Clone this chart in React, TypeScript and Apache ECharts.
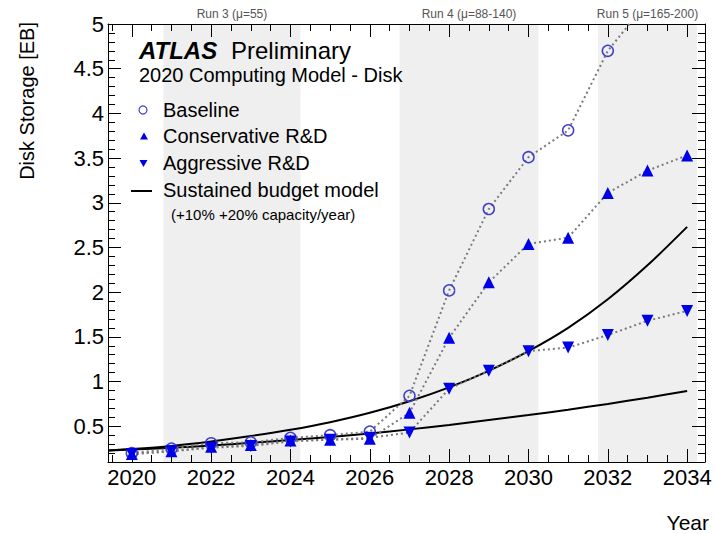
import React, { useEffect, useRef } from "react";
import * as echarts from "echarts";

const years = [2020, 2021, 2022, 2023, 2024, 2025, 2026, 2027, 2028, 2029, 2030, 2031, 2032, 2033, 2034];
const baseline = [0.2, 0.25, 0.31, 0.32, 0.37, 0.4, 0.44, 0.84, 2.02, 2.93, 3.51, 3.81, 4.7, 5.25, 5.6];
const conservative = [0.19, 0.22, 0.27, 0.29, 0.34, 0.35, 0.36, 0.65, 1.49, 2.11, 2.54, 2.61, 3.11, 3.36, 3.53];
const aggressive = [0.19, 0.22, 0.26, 0.28, 0.33, 0.35, 0.37, 0.43, 0.92, 1.12, 1.34, 1.38, 1.52, 1.68, 1.79];

const budgetYears = [2019.4, 2020, 2021, 2022, 2023, 2024, 2025, 2026, 2027, 2028, 2029, 2030, 2031, 2032, 2033, 2034];
const budget20 = [0.23, 0.245, 0.28, 0.33, 0.39, 0.46, 0.545, 0.65, 0.78, 0.935, 1.12, 1.34, 1.6, 1.92, 2.3, 2.73];
const budget10 = [0.23, 0.24, 0.26, 0.285, 0.315, 0.345, 0.38, 0.42, 0.465, 0.515, 0.57, 0.625, 0.685, 0.75, 0.82, 0.895];

const runNames = ["Run 3 (\u03bc=55)", "Run 4 (\u03bc=88-140)", "Run 5 (\u03bc=165-200)"];
const runStart = [2020.8, 2026.75, 2031.75];
const runEnd = [2024.25, 2030.25, 2034.25];

const xMajor = [2020, 2022, 2024, 2026, 2028, 2030, 2032, 2034];
const yMajor = [0.5, 1, 1.5, 2, 2.5, 3, 3.5, 4, 4.5, 5];

const X_MIN = 2019.4;
const X_MAX = 2034.45;
const Y_MIN = 0.1;
const Y_MAX = 5;

const FONT = '"Liberation Sans", Arial, Helvetica, sans-serif';

const xMinor: number[] = [];
for (let k = 4039; k <= 4068; k++) xMinor.push(k / 2);
const yMinor: number[] = [];
for (let k = 1; k <= 50; k++) yMinor.push(k / 10);

function pairs(xs: number[], ys: number[]) {
  return xs.map((x, i) => [x, ys[i]]);
}

export default function App() {
  const ref = useRef<HTMLDivElement>(null);
  useEffect(() => {
    document.body.style.margin = "0";
    if (!ref.current) return;
    const chart = echarts.init(ref.current, null, { renderer: "svg" });

    const xAxisBase = (position: string, ticks: number[], len: number, showLine: boolean, showLabel: boolean) => ({
      type: "value",
      position,
      min: X_MIN,
      max: X_MAX,
      splitLine: { show: false },
      axisLine: { show: showLine, onZero: false, lineStyle: { color: "#000", width: 1 } },
      axisTick: { show: true, inside: true, length: len, customValues: ticks, lineStyle: { color: "#000", width: 1 } },
      axisLabel: showLabel
        ? { show: true, customValues: xMajor, formatter: (v: number) => String(v), fontSize: 22, color: "#000", margin: 4, fontFamily: FONT }
        : { show: false },
    });
    const yAxisBase = (position: string, ticks: number[], len: number, showLine: boolean, showLabel: boolean) => ({
      type: "value",
      position,
      min: Y_MIN,
      max: Y_MAX,
      splitLine: { show: false },
      axisLine: { show: showLine, onZero: false, lineStyle: { color: "#000", width: 1 } },
      axisTick: { show: true, inside: true, length: len, customValues: ticks, lineStyle: { color: "#000", width: 1 } },
      axisLabel: showLabel
        ? { show: true, customValues: yMajor, formatter: (v: number) => String(v), fontSize: 22, color: "#000", margin: 4, fontFamily: FONT }
        : { show: false },
    });

    const dotted = { color: "#7a7a7a", width: 2, type: [2, 3] };

    const option: any = {
      animation: false,
      backgroundColor: "#fff",
      grid: { left: 108, right: 10, top: 24, bottom: 72, containLabel: false },
      xAxis: [
        xAxisBase("bottom", xMajor, 13, true, true),
        xAxisBase("bottom", xMinor, 7, false, false),
        xAxisBase("top", xMajor, 13, true, false),
        xAxisBase("top", xMinor, 7, false, false),
      ],
      yAxis: [
        yAxisBase("left", yMajor, 13, true, true),
        yAxisBase("left", yMinor, 7, false, false),
        yAxisBase("right", yMajor, 13, true, false),
        yAxisBase("right", yMinor, 7, false, false),
      ],
      series: [
        {
          name: "budget10",
          type: "line",
          data: pairs(budgetYears, budget10),
          smooth: 0.3,
          symbol: "none",
          lineStyle: { color: "#000", width: 2 },
          z: 2,
          markArea: {
            silent: true,
            z: 0,
            itemStyle: { color: "#efefef" },
            label: { show: true, position: "top", distance: 4, color: "#555", fontSize: 12, fontFamily: FONT },
            data: runNames.map((n, i) => [{ name: n, xAxis: runStart[i] }, { xAxis: runEnd[i] }]),
          },
        },
        {
          name: "budget20",
          type: "line",
          data: pairs(budgetYears, budget20),
          smooth: 0.3,
          symbol: "none",
          lineStyle: { color: "#000", width: 2 },
          z: 2,
        },
        {
          name: "Baseline",
          type: "line",
          data: pairs(years, baseline),
          symbol: "circle",
          symbolSize: 11,
          showAllSymbol: true,
          itemStyle: { color: "rgba(0,0,0,0)", borderColor: "#3f3fcf", borderWidth: 1.5 },
          lineStyle: dotted,
          z: 3,
        },
        {
          name: "Conservative R&D",
          type: "line",
          data: pairs(years, conservative),
          symbol: "triangle",
          symbolSize: 12,
          showAllSymbol: true,
          itemStyle: { color: "#0000e6" },
          lineStyle: dotted,
          z: 3,
        },
        {
          name: "Aggressive R&D",
          type: "line",
          data: pairs(years, aggressive),
          symbol: "triangle",
          symbolRotate: 180,
          symbolSize: 12,
          showAllSymbol: true,
          itemStyle: { color: "#0000e6" },
          lineStyle: dotted,
          z: 3,
        },
      ],
      graphic: [
        { type: "text", x: 139, y: 50, z: 10, style: { text: "ATLAS", font: `italic bold 24px ${FONT}`, fill: "#000", verticalAlign: "middle" } },
        { type: "text", x: 231, y: 50, z: 10, style: { text: "Preliminary", font: `24px ${FONT}`, fill: "#000", verticalAlign: "middle" } },
        { type: "text", x: 139, y: 75, z: 10, style: { text: "2020 Computing Model - Disk", font: `20px ${FONT}`, fill: "#000", verticalAlign: "middle" } },
        { type: "circle", z: 10, shape: { cx: 143, cy: 110, r: 4 }, style: { fill: "none", stroke: "#3f3fcf", lineWidth: 1.2 } },
        { type: "text", x: 163, y: 110, z: 10, style: { text: "Baseline", font: `20px ${FONT}`, fill: "#000", verticalAlign: "middle" } },
        { type: "polygon", z: 10, shape: { points: [[144, 132.5], [140, 139.5], [148, 139.5]] }, style: { fill: "#0000e6" } },
        { type: "text", x: 163, y: 136, z: 10, style: { text: "Conservative R&D", font: `20px ${FONT}`, fill: "#000", verticalAlign: "middle" } },
        { type: "polygon", z: 10, shape: { points: [[139.5, 160], [147.5, 160], [143.5, 167]] }, style: { fill: "#0000e6" } },
        { type: "text", x: 163, y: 163, z: 10, style: { text: "Aggressive R&D", font: `20px ${FONT}`, fill: "#000", verticalAlign: "middle" } },
        { type: "line", z: 10, shape: { x1: 131, y1: 191, x2: 152, y2: 191 }, style: { stroke: "#000", lineWidth: 2 } },
        { type: "text", x: 163, y: 190, z: 10, style: { text: "Sustained budget model", font: `20px ${FONT}`, fill: "#000", verticalAlign: "middle" } },
        { type: "text", x: 171, y: 214, z: 10, style: { text: "(+10% +20% capacity/year)", font: `15px ${FONT}`, fill: "#000", verticalAlign: "middle" } },
        { type: "text", x: 27, y: 22, rotation: Math.PI / 2, style: { text: "Disk Storage [EB]", font: `20px ${FONT}`, fill: "#000", align: "right", verticalAlign: "middle" } },
        { type: "text", x: 709, y: 522, style: { text: "Year", font: `21px ${FONT}`, fill: "#000", align: "right", verticalAlign: "middle" } },
      ],
    };
    chart.setOption(option);
    return () => chart.dispose();
  }, []);
  return <div ref={ref} style={{ width: 715, height: 534 }} />;
}
